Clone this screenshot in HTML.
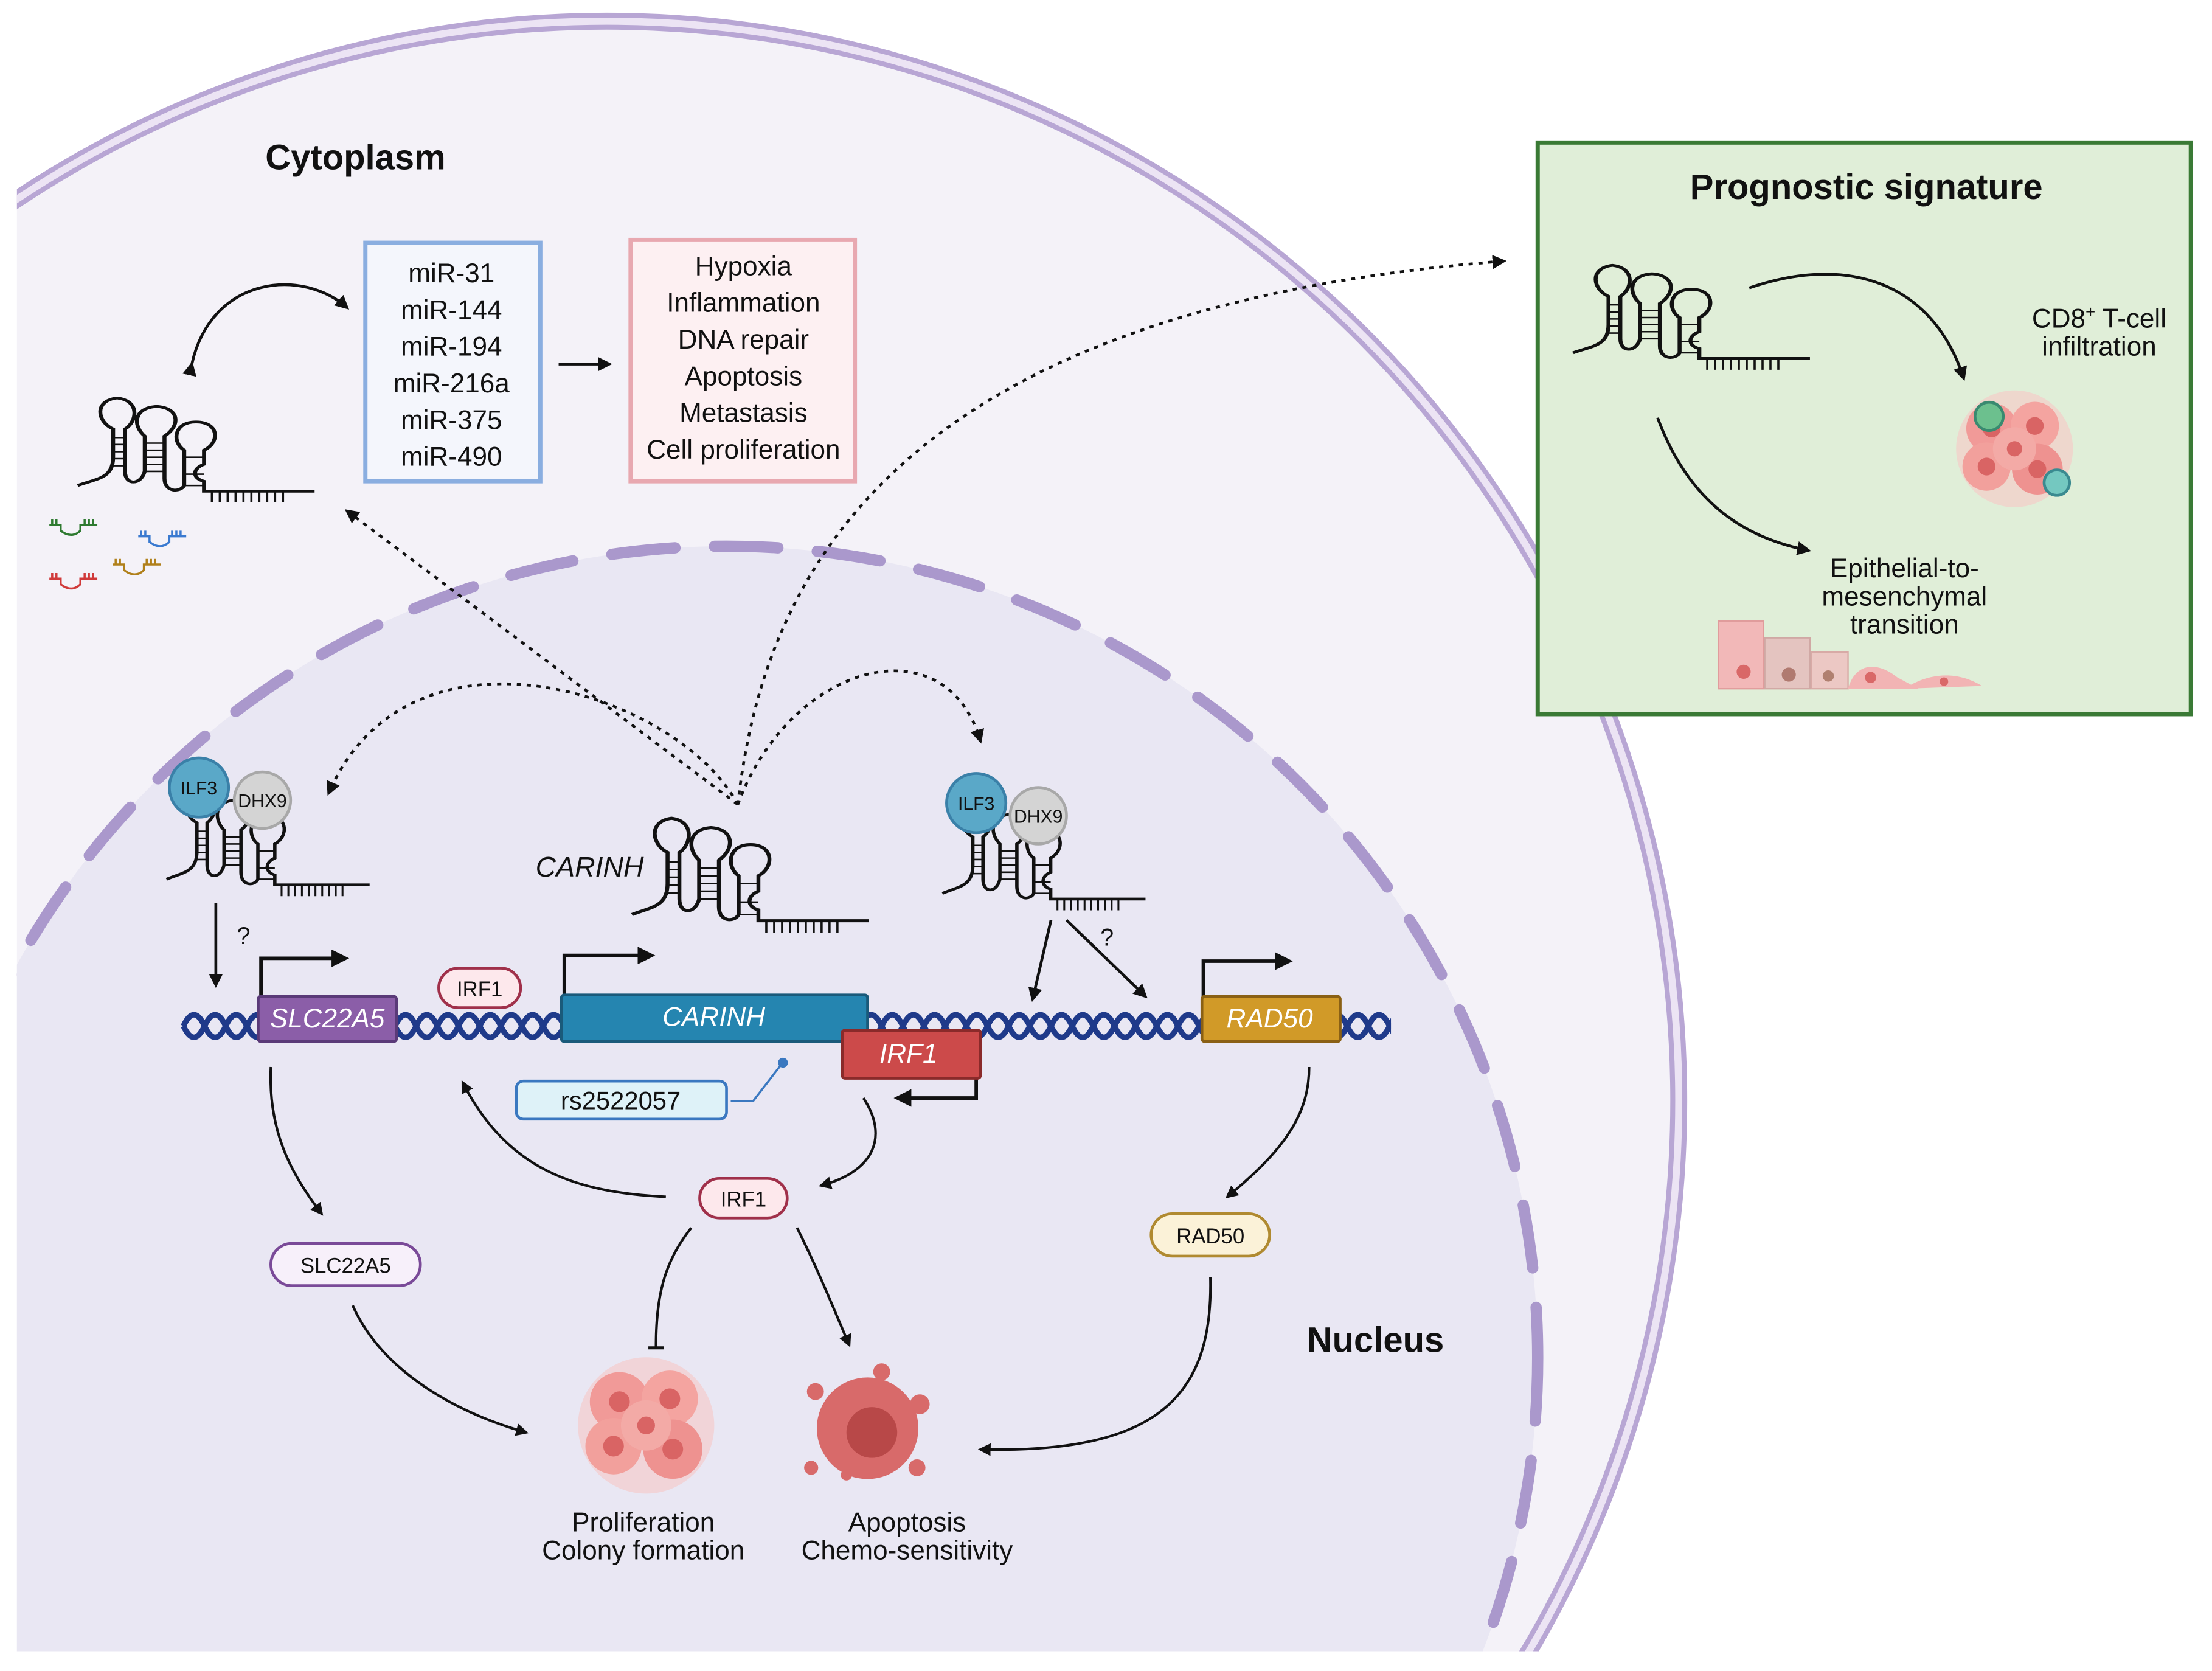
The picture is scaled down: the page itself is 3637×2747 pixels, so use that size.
<!DOCTYPE html>
<html><head><meta charset="utf-8">
<style>
html,body{margin:0;padding:0;background:#fff;overflow:hidden;width:3637px;height:2747px;}
svg{display:block;}
text{font-family:"Liberation Sans",Arial,sans-serif;fill:#111;}
</style></head>
<body>
<svg width="3637" height="2747" viewBox="0 0 1568 1184" preserveAspectRatio="none" xmlns="http://www.w3.org/2000/svg">
<defs>
<clipPath id="cc"><rect x="12" y="0" width="1600" height="1170"/></clipPath>
<clipPath id="dc"><rect x="128" y="700" width="858" height="60"/></clipPath>
<marker id="ah" viewBox="0 0 10 10" refX="8" refY="5" markerWidth="5" markerHeight="5" orient="auto"><path d="M0,0 L10,5 L0,10 z" fill="#111"/></marker>
<marker id="tb" viewBox="0 0 10 10" refX="5" refY="5" markerWidth="6" markerHeight="6" orient="auto"><path d="M5,0 L5,10" stroke="#111" stroke-width="2"/></marker>
<g id="rna">
 <path d="M0,60 C10,55 18,55 18,40 L18,20 C10,15 8,0 20,-2 C32,0 30,15 24,20 L24,50 C24,60 32,60 34,50 L34,25 C28,18 28,5 40,4 C52,5 52,18 44,25 L44,55 C44,65 52,65 54,60 L54,35 C48,30 48,15 60,15 C72,15 72,30 64,35 L64,45 C58,48 58,55 64,57 L64,64 L120,64" fill="none" stroke="#111" stroke-width="2"/>
 <path d="M18,26h6M18,31h6M18,36h6M18,41h6M18,46h6M34,30h10M34,35h10M34,40h10M34,45h10M34,50h10M54,40h10M54,52h10M54,60h10M68,64v8M72,64v8M76,64v8M80,64v8M84,64v8M88,64v8M92,64v8M96,64v8M100,64v8M104,64v8" stroke="#111" stroke-width="1.1"/>
</g>
<g id="tumor">
 <circle cx="0" cy="0" r="46" fill="#f6c8c6" opacity="0.6"/>
 <circle cx="-18" cy="-16" r="20" fill="#f19a98"/><circle cx="16" cy="-18" r="19" fill="#f4a4a0"/>
 <circle cx="-22" cy="14" r="19" fill="#f2a09c"/><circle cx="18" cy="16" r="20" fill="#ee9290"/>
 <circle cx="0" cy="0" r="17" fill="#f3aaa6"/>
 <circle cx="-18" cy="-16" r="7" fill="#d96464"/><circle cx="16" cy="-18" r="7" fill="#d96464"/>
 <circle cx="-22" cy="14" r="7" fill="#d96464"/><circle cx="18" cy="16" r="7" fill="#d96464"/><circle cx="0" cy="0" r="6" fill="#d96464"/>
</g>
</defs>

<g clip-path="url(#cc)">
 <ellipse cx="430" cy="780" rx="760" ry="765" fill="#f4f2f8"/>
 <ellipse cx="430" cy="780" rx="760" ry="765" fill="none" stroke="#b8a6d4" stroke-width="12"/>
 <ellipse cx="430" cy="780" rx="760" ry="765" fill="none" stroke="#ece4f4" stroke-width="5"/>
 <circle cx="515" cy="962" r="575" fill="#e9e7f3"/>
 <circle cx="515" cy="962" r="575" fill="none" stroke="#aa98cc" stroke-width="8" stroke-dasharray="45 28" stroke-linecap="round"/>
</g>

<!-- Green box -->
<rect x="1090" y="101" width="463" height="405" fill="#e0eed8" stroke="#3a7a35" stroke-width="3"/>
<text x="1323" y="141" font-size="25" font-weight="bold" text-anchor="middle">Prognostic signature</text>
<use href="#rna" transform="translate(1115,190) scale(1.4,1.0)"/>
<path d="M1240,204 C1310,180 1370,200 1392,268" fill="none" stroke="#111" stroke-width="2" marker-end="url(#ah)"/>
<path d="M1175,296 C1195,350 1230,380 1282,390" fill="none" stroke="#111" stroke-width="2" marker-end="url(#ah)"/>
<text x="1488" y="232" font-size="19" text-anchor="middle">CD8<tspan font-size="12" dy="-7">+</tspan><tspan dy="7"> T-cell</tspan></text>
<text x="1488" y="252" font-size="19" text-anchor="middle">infiltration</text>
<use href="#tumor" transform="translate(1428,318) scale(0.9)"/>
<circle cx="1410" cy="295" r="10" fill="#6cc08e" stroke="#3a8a70" stroke-width="2"/>
<circle cx="1458" cy="342" r="9" fill="#74c8c0" stroke="#3a8a90" stroke-width="2"/>
<text x="1350" y="409" font-size="19" text-anchor="middle">Epithelial-to-</text>
<text x="1350" y="429" font-size="19" text-anchor="middle">mesenchymal</text>
<text x="1350" y="449" font-size="19" text-anchor="middle">transition</text>
<rect x="1218" y="440" width="32" height="48" fill="#f2b8b8" stroke="#e09c9c"/>
<rect x="1251" y="452" width="32" height="36" fill="#e4c4c0" stroke="#d0a8a4"/>
<rect x="1284" y="462" width="26" height="26" fill="#ecc8c4" stroke="#d8aaa6"/>
<path d="M1310,488 C1315,470 1330,468 1345,480 L1360,488 Z" fill="#f2b4b4"/>
<path d="M1350,488 C1365,478 1385,474 1405,486 L1350,488Z" fill="#f2b4b4"/>
<circle cx="1236" cy="476" r="5" fill="#d96868"/><circle cx="1268" cy="478" r="5" fill="#b07a70"/><circle cx="1296" cy="479" r="4" fill="#b08070"/><circle cx="1326" cy="480" r="4" fill="#d96868"/><circle cx="1378" cy="483" r="3" fill="#d96868"/>

<!-- Cytoplasm -->
<text x="252" y="120" font-size="25" font-weight="bold" text-anchor="middle">Cytoplasm</text>
<rect x="259" y="172" width="124" height="169" fill="#f4f6fc" stroke="#8aaee0" stroke-width="3"/>
<g font-size="19" text-anchor="middle">
<text x="320" y="200">miR-31</text><text x="320" y="226">miR-144</text><text x="320" y="252">miR-194</text>
<text x="320" y="278">miR-216a</text><text x="320" y="304">miR-375</text><text x="320" y="330">miR-490</text>
</g>
<rect x="447" y="170" width="159" height="171" fill="#fdf0f2" stroke="#e8a8b0" stroke-width="3"/>
<g font-size="19" text-anchor="middle">
<text x="527" y="195">Hypoxia</text><text x="527" y="221">Inflammation</text><text x="527" y="247">DNA repair</text>
<text x="527" y="273">Apoptosis</text><text x="527" y="299">Metastasis</text><text x="527" y="325">Cell proliferation</text>
</g>
<path d="M396,258 L432,258" stroke="#111" stroke-width="2" marker-end="url(#ah)"/>
<path d="M136,258 C150,195 215,190 246,218" fill="none" stroke="#111" stroke-width="2" marker-start="url(#ah)" marker-end="url(#ah)"/>
<use href="#rna" transform="translate(55,284) scale(1.4,1.0)"/>
<g stroke-width="1.5" fill="none">
<path d="M35,372 h8 v4 c5,4 10,4 14,0 v-4 h12 M37,372v-4M40,372v-4M60,372v-4M63,372v-4M66,372v-4" stroke="#2e7a30"/>
<path d="M98,380 h8 v4 c5,4 10,4 14,0 v-4 h12 M100,380v-4M103,380v-4M122,380v-4M125,380v-4M128,380v-4" stroke="#3a7ad0"/>
<path d="M35,410 h8 v4 c5,4 10,4 14,0 v-4 h12 M37,410v-4M40,410v-4M60,410v-4M63,410v-4M66,410v-4" stroke="#d03a3a"/>
<path d="M80,400 h8 v4 c5,4 10,4 14,0 v-4 h12 M82,400v-4M85,400v-4M104,400v-4M107,400v-4M110,400v-4" stroke="#b0801a"/>
</g>

<!-- dotted arrows -->
<g fill="none" stroke="#111" stroke-width="2" stroke-dasharray="3 4">
<path d="M523,570 L246,362" marker-end="url(#ah)"/>
<path d="M523,570 C540,420 620,220 1066,185" marker-end="url(#ah)"/>
<path d="M523,570 C480,490 290,430 233,562" marker-end="url(#ah)"/>
<path d="M523,570 C560,470 670,440 695,525" marker-end="url(#ah)"/>
</g>

<!-- nucleus RNAs -->
<use href="#rna" transform="translate(118,563) scale(1.2,1.0)"/>
<circle cx="141" cy="558" r="21" fill="#5aa8c8" stroke="#3a80a8" stroke-width="2"/><text x="141" y="563" font-size="13" text-anchor="middle">ILF3</text>
<circle cx="186" cy="567" r="20" fill="#d4d4d4" stroke="#a8a8a8" stroke-width="2"/><text x="186" y="572" font-size="13" text-anchor="middle">DHX9</text>
<text x="418" y="621" font-size="20" font-style="italic" text-anchor="middle">CARINH</text>
<use href="#rna" transform="translate(448,582) scale(1.4,1.1)"/>
<use href="#rna" transform="translate(668,573) scale(1.2,1.0)"/>
<circle cx="692" cy="569" r="21" fill="#5aa8c8" stroke="#3a80a8" stroke-width="2"/><text x="692" y="574" font-size="13" text-anchor="middle">ILF3</text>
<circle cx="736" cy="578" r="20" fill="#d4d4d4" stroke="#a8a8a8" stroke-width="2"/><text x="736" y="583" font-size="13" text-anchor="middle">DHX9</text>

<path d="M153,640 L153,698" stroke="#111" stroke-width="2" marker-end="url(#ah)"/>
<text x="168" y="669" font-size="17">?</text>
<path d="M745,652 L732,708" stroke="#111" stroke-width="2" marker-end="url(#ah)"/>
<path d="M756,652 L812,706" stroke="#111" stroke-width="2" marker-end="url(#ah)"/>
<text x="780" y="670" font-size="17">?</text>

<!-- DNA -->
<g fill="none" stroke="#1f3a8a" stroke-width="4" clip-path="url(#dc)">
<path d="M130,727 q7.5,-16 15,0 t15,0 t15,0 t15,0 t15,0 t15,0 t15,0 t15,0 t15,0 t15,0 t15,0 t15,0 t15,0 t15,0 t15,0 t15,0 t15,0 t15,0 t15,0 t15,0 t15,0 t15,0 t15,0 t15,0 t15,0 t15,0 t15,0 t15,0 t15,0 t15,0 t15,0 t15,0 t15,0 t15,0 t15,0 t15,0 t15,0 t15,0 t15,0 t15,0 t15,0 t15,0 t15,0 t15,0 t15,0 t15,0 t15,0 t15,0 t15,0 t15,0 t15,0 t15,0 t15,0 t15,0 t15,0 t15,0 t15,0 t15,0"/>
<path d="M130,727 q7.5,16 15,0 t15,0 t15,0 t15,0 t15,0 t15,0 t15,0 t15,0 t15,0 t15,0 t15,0 t15,0 t15,0 t15,0 t15,0 t15,0 t15,0 t15,0 t15,0 t15,0 t15,0 t15,0 t15,0 t15,0 t15,0 t15,0 t15,0 t15,0 t15,0 t15,0 t15,0 t15,0 t15,0 t15,0 t15,0 t15,0 t15,0 t15,0 t15,0 t15,0 t15,0 t15,0 t15,0 t15,0 t15,0 t15,0 t15,0 t15,0 t15,0 t15,0 t15,0 t15,0 t15,0 t15,0 t15,0 t15,0 t15,0 t15,0"/>
</g>
<!-- promoters -->
<g fill="none" stroke="#111" stroke-width="2.5">
<path d="M185,706 V679 H245" marker-end="url(#ah)"/>
<path d="M400,706 V677 H462" marker-end="url(#ah)"/>
<path d="M853,706 V681 H914" marker-end="url(#ah)"/>
<path d="M692,764 V778 H636" marker-end="url(#ah)"/>
</g>
<rect x="183" y="706" width="98" height="32" rx="2" fill="#8b5ea8" stroke="#5a3a78" stroke-width="2"/>
<text x="232" y="728" font-size="19" font-style="italic" text-anchor="middle" style="fill:#fff">SLC22A5</text>
<rect x="398" y="705" width="217" height="33" rx="2" fill="#2585b0" stroke="#1a5a7a" stroke-width="2"/>
<text x="506" y="727" font-size="19" font-style="italic" text-anchor="middle" style="fill:#fff">CARINH</text>
<rect x="597" y="730" width="98" height="34" rx="2" fill="#cc4a4a" stroke="#8a2a2a" stroke-width="2"/>
<text x="644" y="753" font-size="19" font-style="italic" text-anchor="middle" style="fill:#fff">IRF1</text>
<rect x="852" y="706" width="98" height="32" rx="2" fill="#d19a28" stroke="#8a6014" stroke-width="2"/>
<text x="900" y="728" font-size="19" font-style="italic" text-anchor="middle" style="fill:#fff">RAD50</text>

<rect x="311" y="686" width="58" height="28" rx="14" fill="#fde8ec" stroke="#a0304a" stroke-width="2"/>
<text x="340" y="706" font-size="15" text-anchor="middle">IRF1</text>
<rect x="366" y="766" width="149" height="27" rx="5" fill="#def2f8" stroke="#3a78c0" stroke-width="2"/>
<text x="440" y="786" font-size="18" text-anchor="middle">rs2522057</text>
<path d="M518,780 h16 l20,-26" fill="none" stroke="#3a78c0" stroke-width="1.5"/><circle cx="555" cy="753" r="3.5" fill="#3a78c0"/>

<!-- lower arrows -->
<g fill="none" stroke="#111" stroke-width="1.8">
<path d="M192,756 C190,800 205,830 228,860" marker-end="url(#ah)"/>
<path d="M472,848 C410,845 360,830 328,767" marker-end="url(#ah)"/>
<path d="M612,778 C630,805 620,830 582,840" marker-end="url(#ah)"/>
<path d="M928,756 C928,790 910,815 870,848" marker-end="url(#ah)"/>
<path d="M490,870 C470,895 465,920 465,955" marker-end="url(#tb)"/>
<path d="M565,870 C580,900 590,925 602,953" marker-end="url(#ah)"/>
<path d="M250,925 C270,970 320,1000 373,1015" marker-end="url(#ah)"/>
<path d="M858,905 C860,990 820,1030 695,1027" marker-end="url(#ah)"/>
</g>
<rect x="496" y="835" width="62" height="28" rx="14" fill="#fde8ec" stroke="#a0304a" stroke-width="2"/>
<text x="527" y="855" font-size="15" text-anchor="middle">IRF1</text>
<rect x="192" y="881" width="106" height="30" rx="15" fill="#f7f0fa" stroke="#7a4a98" stroke-width="2"/>
<text x="245" y="902" font-size="15" text-anchor="middle">SLC22A5</text>
<rect x="816" y="860" width="84" height="30" rx="15" fill="#fbf2d8" stroke="#b08a30" stroke-width="2"/>
<text x="858" y="881" font-size="15" text-anchor="middle">RAD50</text>

<text x="975" y="958" font-size="25" font-weight="bold" text-anchor="middle">Nucleus</text>
<use href="#tumor" transform="translate(458,1010) scale(1.05)"/>
<g>
<circle cx="615" cy="1012" r="36" fill="#d86a6a"/><circle cx="618" cy="1015" r="18" fill="#b84848"/>
<circle cx="578" cy="986" r="6" fill="#d86a6a"/><circle cx="652" cy="995" r="7" fill="#d86a6a"/><circle cx="575" cy="1040" r="5" fill="#d86a6a"/>
<circle cx="650" cy="1040" r="6" fill="#d86a6a"/><circle cx="625" cy="972" r="6" fill="#d86a6a"/><circle cx="600" cy="1045" r="4" fill="#d86a6a"/>
</g>
<g font-size="19" text-anchor="middle">
<text x="456" y="1085">Proliferation</text><text x="456" y="1105">Colony formation</text>
<text x="643" y="1085">Apoptosis</text><text x="643" y="1105">Chemo-sensitivity</text>
</g>
</svg>
</body></html>
